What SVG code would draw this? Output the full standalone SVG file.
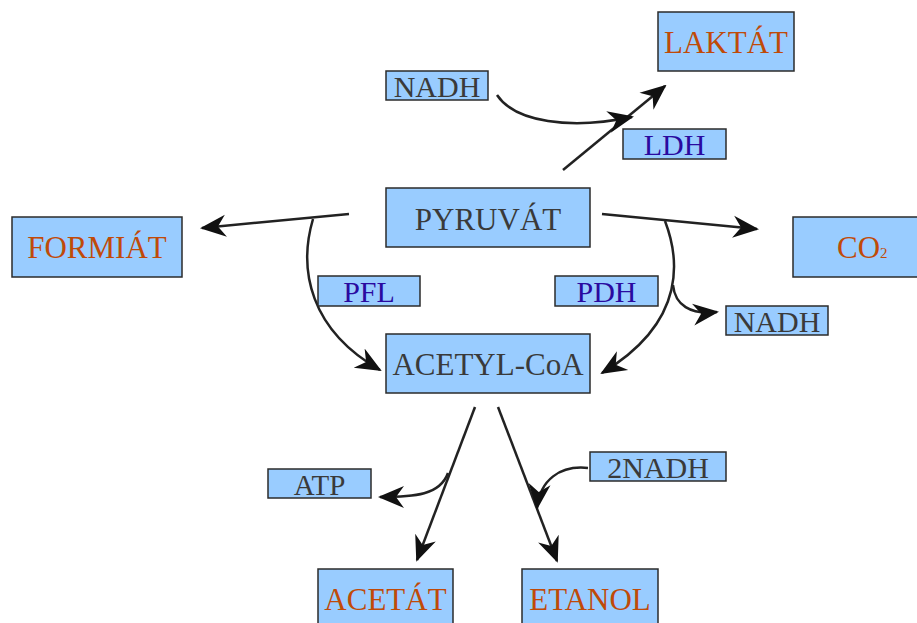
<svg xmlns="http://www.w3.org/2000/svg" width="917" height="623" viewBox="0 0 917 623">
<style>
.box{fill:#99ccff;stroke:#2b2b2b;stroke-width:1.5}
.t{font-family:"Liberation Serif","Times New Roman",serif;font-size:31px;text-anchor:middle}
.m{fill:#3a3a3a}
.p{fill:#c04a08}
.e{fill:#2a0aa0}
.c{fill:none;stroke:#222;stroke-width:2.5}
</style>
<defs>
<marker id="ah" viewBox="0 0 26 24" refX="24" refY="12" markerWidth="26" markerHeight="24" markerUnits="userSpaceOnUse" orient="auto">
<path d="M0,1 L26,12 L0,23 L8,12 Z" fill="#111"/>
</marker>
</defs>
<rect width="917" height="623" fill="#fff"/>
<g id="connectors">
<path class="c" d="M563,170 L665,86" marker-end="url(#ah)"/>
<path class="c" d="M497,95 C515,122 570,130 632,117" marker-end="url(#ah)"/>
<path class="c" d="M349,214 L202,228" marker-end="url(#ah)"/>
<path class="c" d="M313,219 C298,270 310,330 380,370" marker-end="url(#ah)"/>
<path class="c" d="M602,214 L757,229" marker-end="url(#ah)"/>
<path class="c" d="M665,221 C678,255 690,320 602,373" marker-end="url(#ah)"/>
<path class="c" d="M673,285 C675,305 690,315 717,312" marker-end="url(#ah)"/>
<path class="c" d="M475,407 L417,560" marker-end="url(#ah)"/>
<path class="c" d="M448,473 C440,495 415,497 380,497" marker-end="url(#ah)"/>
<path class="c" d="M498,407 L557,561" marker-end="url(#ah)"/>
<path class="c" d="M588,468 C560,465 540,480 537,508" marker-end="url(#ah)"/>
</g>
<g id="laktat"><rect class="box" x="658" y="12" width="136" height="59"/><text class="t p" x="726" y="53">LAKTÁT</text></g>
<g id="nadh1"><rect class="box" x="386" y="71" width="102" height="29"/><text class="t m" x="437" y="97" style="font-size:30px">NADH</text></g>
<g id="ldh"><rect class="box" x="623" y="129" width="103" height="30"/><text class="t e" x="674.5" y="155" style="font-size:30px">LDH</text></g>
<g id="pyruvat"><rect class="box" x="386" y="188" width="204" height="59"/><text class="t m" x="488" y="230">PYRUVÁT</text></g>
<g id="formiat"><rect class="box" x="12" y="217" width="170" height="60"/><text class="t p" x="97" y="258">FORMIÁT</text></g>
<g id="co2"><rect class="box" x="793" y="217" width="130" height="60"/><text class="t p" x="837" y="258" style="text-anchor:start">CO<tspan font-size="15">2</tspan></text></g>
<g id="pfl"><rect class="box" x="318" y="276" width="102" height="30"/><text class="t e" x="369" y="302" style="font-size:30px">PFL</text></g>
<g id="pdh"><rect class="box" x="555" y="276" width="103" height="30"/><text class="t e" x="606.5" y="302" style="font-size:30px">PDH</text></g>
<g id="nadh2"><rect class="box" x="726" y="306" width="102" height="29"/><text class="t m" x="777" y="332" style="font-size:30px">NADH</text></g>
<g id="acetylcoa"><rect class="box" x="386" y="334" width="204" height="59"/><text class="t m" x="488" y="375">ACETYL-CoA</text></g>
<g id="atp"><rect class="box" x="268" y="469" width="103" height="29"/><text class="t m" x="319.5" y="495" style="font-size:29px">ATP</text></g>
<g id="nadh3"><rect class="box" x="590" y="452" width="136" height="29"/><text class="t m" x="658" y="478" style="font-size:30px">2NADH</text></g>
<g id="acetat"><rect class="box" x="318" y="569" width="135" height="60"/><text class="t p" x="385.5" y="610">ACETÁT</text></g>
<g id="etanol"><rect class="box" x="522" y="569" width="136" height="60"/><text class="t p" x="590" y="610">ETANOL</text></g>
</svg>
